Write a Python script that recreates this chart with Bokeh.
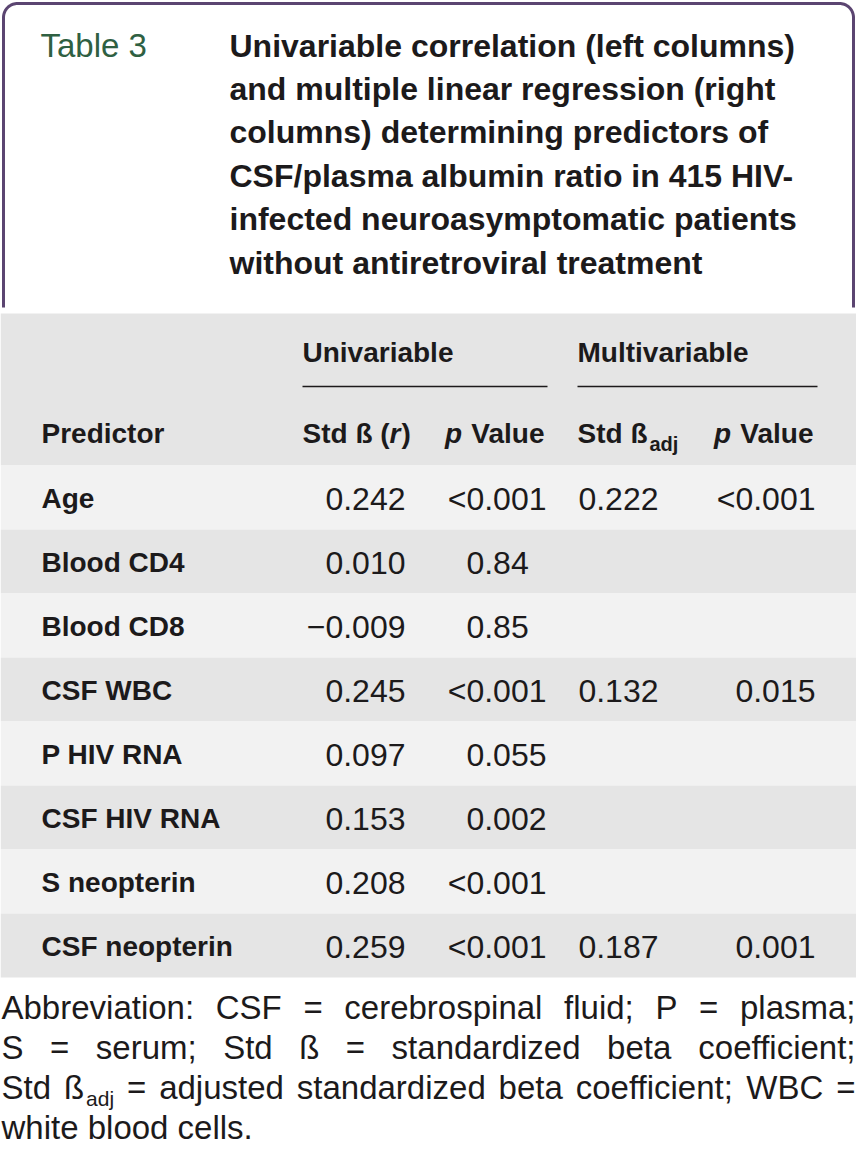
import numpy as np
from bokeh.plotting import figure
from bokeh.models import Range1d, ColumnDataSource
from bokeh.core.properties import value
from bokeh.embed import file_html
from bokeh.resources import INLINE

# ---------------- data ----------------
table_label = "Table 3"
title_lines = [
    "Univariable correlation (left columns)",
    "and multiple linear regression (right",
    "columns) determining predictors of",
    "CSF/plasma albumin ratio in 415 HIV-",
    "infected neuroasymptomatic patients",
    "without antiretroviral treatment",
]
group_labels = ["Univariable", "Multivariable"]
predictors = ["Age", "Blood CD4", "Blood CD8", "CSF WBC", "P HIV RNA",
              "CSF HIV RNA", "S neopterin", "CSF neopterin"]
uni_beta = ["0.242", "0.010", "\u22120.009", "0.245", "0.097", "0.153", "0.208", "0.259"]
uni_p = ["<0.001", "0.84", "0.85", "<0.001", "0.055", "0.002", "<0.001", "<0.001"]
multi_beta = ["0.222", "", "", "0.132", "", "", "", "0.187"]
multi_p = ["<0.001", "", "", "0.015", "", "", "", "0.001"]
footnote_lines = [
    [[("Abbreviation:", "n")], [("CSF", "n")], [("=", "n")], [("cerebrospinal", "n")],
     [("fluid;", "n")], [("P", "n")], [("=", "n")], [("plasma;", "n")]],
    [[("S", "n")], [("=", "n")], [("serum;", "n")], [("Std", "n")], [("\u00df", "n")],
     [("=", "n")], [("standardized", "n")], [("beta", "n")], [("coefficient;", "n")]],
    [[("Std", "n")], [("\u00df", "n"), ("adj", "sub")], [("=", "n")], [("adjusted", "n")],
     [("standardized", "n")], [("beta", "n")], [("coefficient;", "n")], [("WBC", "n")],
     [("=", "n")]],
    [[("white", "n")], [("blood", "n")], [("cells.", "n")]],
]

# ---------------- style ----------------
FONT = "Liberation Sans"
INK = "#1c1a1b"
GREEN = "#2f6042"
PURPLE = "#5b4571"
GREY = "#e5e5e5"
LIGHT = "#f2f2f2"

W, H = 856, 1164
p = figure(width=W, height=H, x_range=Range1d(0, W), y_range=Range1d(H, 0),
           output_backend="svg", toolbar_location=None, min_border=0,
           x_axis_type=None, y_axis_type=None)
p.grid.visible = False
p.outline_line_color = None
p.background_fill_color = "white"
p.border_fill_color = "white"

# Arial/Liberation Sans advance widths (1/1000 em)
REG = dict(zip(" ()-./:;<=0123456789", [278, 333, 333, 333, 278, 278, 278, 278, 584, 584] + [556] * 10))
REG.update(dict(zip("ABCDEFGHIJKLMNOPQRSTUVWXYZ",
                    [667, 667, 722, 722, 667, 611, 778, 722, 278, 500, 667, 556, 833, 722, 778, 667,
                     778, 722, 667, 611, 722, 667, 944, 667, 667, 611])))
REG.update(dict(zip("abcdefghijklmnopqrstuvwxyz",
                    [556, 556, 500, 556, 556, 278, 556, 556, 222, 222, 500, 222, 833, 556, 556, 556,
                     556, 333, 500, 278, 556, 500, 722, 500, 500, 500])))
REG["\u00df"] = 611
REG["\u2212"] = 584
BOLD = dict(REG)
BOLD.update(dict(zip("ABCDEFGHIJKLMNOPQRSTUVWXYZ",
                     [722, 722, 722, 722, 667, 611, 778, 722, 278, 556, 722, 611, 833, 722, 778, 667,
                      778, 722, 667, 611, 722, 667, 944, 667, 667, 611])))
BOLD.update(dict(zip("abcdefghijklmnopqrstuvwxyz",
                     [556, 611, 556, 611, 556, 333, 611, 611, 278, 278, 556, 278, 889, 611, 611, 611,
                      611, 389, 556, 333, 611, 556, 778, 556, 556, 500])))


def tw(s, size, bold=False):
    t = BOLD if bold else REG
    return sum(t.get(c, 556) for c in s) / 1000.0 * size


groups = {}


def put(x, y, s, size, style="normal", align="left", color=INK, font=FONT):
    key = (font, size, style, align, color)
    d = groups.setdefault(key, {"x": [], "y": [], "text": []})
    d["x"].append(x)
    d["y"].append(y)
    d["text"].append(s)


# ---------------- backgrounds ----------------
TOP_HDR, ROW0, ROWH = 313, 465, 64
n = len(predictors)
p.quad(left=[0], right=[W], top=[TOP_HDR], bottom=[ROW0], fill_color=GREY, line_color=None)
row_tops = [ROW0 + ROWH * i for i in range(n)]
p.quad(left=[0] * n, right=[W] * n, top=row_tops, bottom=[t + ROWH for t in row_tops],
       fill_color=[LIGHT if i % 2 == 0 else GREY for i in range(n)], line_color=None)

# rounded purple frame around title block
x0, x1, y0, yb, r = 3, 853, 3, 307, 14
t1 = np.linspace(np.pi, 1.5 * np.pi, 20)
t2 = np.linspace(1.5 * np.pi, 2 * np.pi, 20)
fx = np.concatenate([[x0], x0 + r + r * np.cos(t1), x1 - r + r * np.cos(t2), [x1]])
fy = np.concatenate([[yb], y0 + r + r * np.sin(t1), y0 + r + r * np.sin(t2), [yb]])
p.line(fx, fy, line_color=PURPLE, line_width=3)

# ---------------- title ----------------
put(40, 45, table_label, 33, "normal", color=GREEN)
for i, line in enumerate(title_lines):
    put(229, 45 + 43.4 * i, line, 32, "bold")

# ---------------- header ----------------
HB = 28
put(302, 352, group_labels[0], HB, "bold")
put(577, 352, group_labels[1], HB, "bold")
p.segment(x0=[302, 577], x1=[547, 817], y0=[386, 386], y1=[386, 386], line_color=INK, line_width=1.6)

YH = 433
put(41, YH, "Predictor", HB, "bold")
# Std ß (r)
xx = 302
put(xx, YH, "Std \u00df (", HB, "bold"); xx += tw("Std \u00df (", HB, True)
put(xx, YH, "r", HB, "bold italic"); xx += tw("r", HB, True) + 1
put(xx, YH, ")", HB, "bold")
# p Value (right edges)
for right in (544, 813):
    put(right, YH, "Value", HB, "bold", align="right")
    put(right - tw(" Value", HB, True), YH, "p", HB, "bold italic", align="right")
# Std ß_adj
put(577, YH, "Std \u00df", HB, "bold")
put(577 + tw("Std \u00df", HB, True) + 2, YH + 10, "adj", 20, "bold")

# ---------------- body ----------------
VS = 32
for i, name in enumerate(predictors):
    yc = row_tops[i] + 33
    put(41, yc, name, HB, "bold")
    for col, right in ((uni_beta, 405), (uni_p, 546), (multi_beta, 658), (multi_p, 815)):
        s = col[i]
        if not s:
            continue
        xdec = right - tw(".000", VS)
        ip, fp = s.split(".", 1)
        put(xdec, yc, ip, VS, "normal", align="right")
        put(xdec, yc, "." + fp, VS, "normal", align="left")

# ---------------- footnote ----------------
FS, SUB = 33, 21
L, R = 1, 855
fy0 = [1007, 1047, 1087, 1127]


def word_w(word):
    return sum(tw(t, SUB if k == "sub" else FS) + (2 if k == "sub" else 0) for t, k in word)


for li, words in enumerate(footnote_lines):
    y = fy0[li]
    widths = [word_w(w) for w in words]
    justify = li < len(footnote_lines) - 1
    gap = (R - L - sum(widths)) / (len(words) - 1) if justify else tw(" ", FS)
    x = L
    for wi, (word, wd) in enumerate(zip(words, widths)):
        last = justify and wi == len(words) - 1
        if last and len(word) == 1:
            put(R, y, word[0][0], FS, "normal", align="right")
            continue
        xs = x
        for t, k in word:
            if k == "sub":
                put(xs + 2, y + 11, t, SUB, "normal")
                xs += tw(t, SUB) + 2
            else:
                put(xs, y, t, FS, "normal")
                xs += tw(t, FS)
        x += wd + gap

for (font, size, style, align, color), d in groups.items():
    p.text(x="x", y="y", text="text", source=ColumnDataSource(d),
           text_font=value(font), text_font_size=f"{size}px", text_font_style=style,
           text_align=align, text_baseline="middle", text_color=color)

open("out.html", "w").write(file_html(p, INLINE))
